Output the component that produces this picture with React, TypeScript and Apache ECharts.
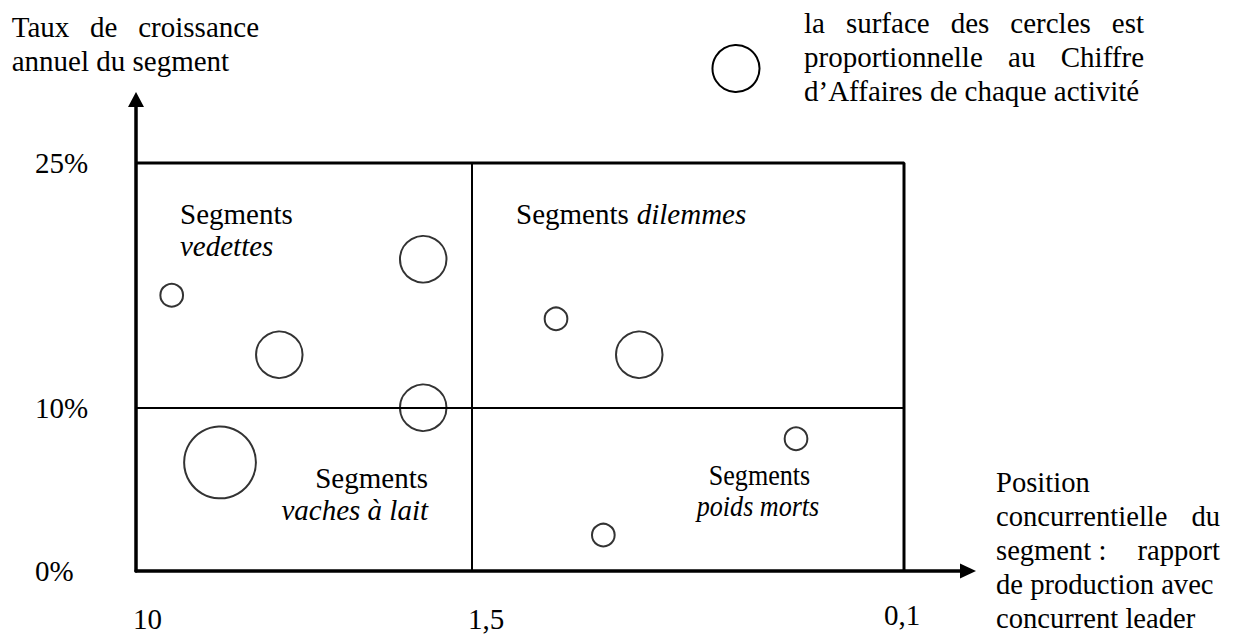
import React, { useEffect, useRef } from "react";
import * as echarts from "echarts";

// ---- data ----
// x: competitive position on a schematic scale (0 = ratio 10, 43.75 = ratio 1.5, 100 = ratio 0.1)
const xTickValues = [0, 43.75, 100];
const xTickLabels = ["10", "1,5", "0,1"];
const yTickValues = [0, 10, 25];
const yTickLabels = ["0%", "10%", "25%"];

const splitPosition = 43.75; // ratio 1,5
const splitGrowth = 10; // 10%
const maxPosition = 100; // ratio 0,1
const maxGrowth = 25; // 25%

const activityPosition = [4.65, 37.4, 18.66, 37.4, 10.94, 54.69, 65.53, 85.94, 60.85];
const activityGrowth = [16.9, 19.1, 13.25, 10, 6.65, 15.45, 13.25, 8.1, 2.2];
const activityRevenue = [1, 4.2, 4.2, 4.2, 10, 1, 4.2, 1, 1];
const legendRevenue = 4.3;

// ---- layout ----
const FONT = '"Liberation Serif", "Times New Roman", serif';
const FS = 29;
const UNIT_DIAMETER = 22.7;
const X_AXIS_MAX = 108.333;
const Y_AXIS_MAX = 28.89;

let measureCtx: CanvasRenderingContext2D | null = null;
function measure(text: string, fs: number, italic = false) {
  if (!measureCtx) measureCtx = document.createElement("canvas").getContext("2d");
  if (!measureCtx) return text.length * fs * 0.45;
  measureCtx.font = `${italic ? "italic " : ""}${fs}px ${FONT}`;
  return measureCtx.measureText(text).width;
}

type TxtOpt = { fs?: number; italic?: boolean; align?: string; scaleX?: number };
function txt(text: string, x: number, baseline: number, opt: TxtOpt = {}) {
  const fs = opt.fs ?? FS;
  return {
    type: "text",
    x,
    y: baseline - 0.3375 * fs,
    scaleX: opt.scaleX ?? 1,
    silent: true,
    z: 100,
    style: {
      text,
      fill: "#000",
      fontSize: fs,
      fontFamily: FONT,
      fontStyle: opt.italic ? "italic" : "normal",
      align: opt.align ?? "left",
      verticalAlign: "middle",
    },
  };
}

// justified line: first word at left, last word ending at right, equal gaps
function justify(words: string[], left: number, right: number, baseline: number, fs = FS) {
  const widths = words.map((w) => measure(w, fs));
  const total = widths.reduce((a, b) => a + b, 0);
  const gap = words.length > 1 ? (right - left - total) / (words.length - 1) : 0;
  const out: any[] = [];
  let x = left;
  words.forEach((w, i) => {
    out.push(txt(w, x, baseline, { fs }));
    x += widths[i] + gap;
  });
  return out;
}

export default function App() {
  const ref = useRef<HTMLDivElement>(null);
  useEffect(() => {
    if (!ref.current) return;
    const chart = echarts.init(ref.current, undefined, { renderer: "svg" });
    const option: any = {
      animation: false,
      backgroundColor: "#fff",
      grid: { left: 136, right: 266, top: 99.5, bottom: 64, containLabel: false },
      xAxis: {
        type: "value",
        min: 0,
        max: X_AXIS_MAX,
        axisLine: {
          show: true,
          onZero: false,
          symbol: ["none", "triangle"],
          symbolSize: [15, 16],
          lineStyle: { color: "#000", width: 3.5 },
        },
        axisTick: { show: false },
        axisLabel: { show: false },
        splitLine: { show: false },
      },
      yAxis: {
        type: "value",
        min: 0,
        max: Y_AXIS_MAX,
        axisLine: {
          show: true,
          onZero: false,
          symbol: ["none", "triangle"],
          symbolSize: [16, 15],
          lineStyle: { color: "#000", width: 3.5 },
        },
        axisTick: { show: false },
        splitLine: { show: false },
        axisLabel: {
          customValues: yTickValues,
          formatter: (v: number) => yTickLabels[yTickValues.indexOf(v)] ?? "",
          align: "left",
          margin: 101,
          padding: [4, 0, 0, 0],
          color: "#000",
          fontSize: FS,
          fontFamily: FONT,
        },
      },
      series: [
        {
          type: "line",
          silent: true,
          symbol: "none",
          z: 2,
          data: [
            [0, maxGrowth],
            [maxPosition, maxGrowth],
            [maxPosition, 0],
          ],
          lineStyle: { color: "#000", width: 3 },
          markLine: {
            silent: true,
            symbol: ["none", "none"],
            label: { show: false },
            lineStyle: { color: "#000", width: 2, type: "solid" },
            data: [
              [{ coord: [0, splitGrowth] }, { coord: [maxPosition, splitGrowth] }],
              [{ coord: [splitPosition, 0] }, { coord: [splitPosition, maxGrowth] }],
            ],
          },
        },
        {
          type: "scatter",
          z: 3,
          silent: true,
          data: activityPosition.map((x, i) => [x, activityGrowth[i], activityRevenue[i]]),
          symbolSize: (d: number[]) => UNIT_DIAMETER * Math.sqrt(d[2]),
          itemStyle: { color: "rgba(255,255,255,0.5)", borderColor: "#000", borderWidth: 2 },
        },
      ],
    };
    chart.setOption(option);

    const xLabelDx = [-3, -4, -20];
    const xLabelBaseline = [629, 629, 625];
    const tickTexts = xTickValues.map((v, i) => {
      const px = chart.convertToPixel({ xAxisIndex: 0 }, v) as number;
      return txt(xTickLabels[i], px + xLabelDx[i], xLabelBaseline[i]);
    });

    const graphics: any[] = [
      ...tickTexts,
      // y axis title
      ...justify(["Taux", "de", "croissance"], 11.7, 259, 36.7),
      txt("annuel du segment", 11.7, 70.7),
      // legend
      {
        type: "circle",
        silent: true,
        z: 100,
        shape: { cx: 736, cy: 68.5, r: (UNIT_DIAMETER * Math.sqrt(legendRevenue)) / 2 },
        style: { fill: "none", stroke: "#000", lineWidth: 2 },
      },
      ...justify(["la", "surface", "des", "cercles", "est"], 804, 1144, 33),
      ...justify(["proportionnelle", "au", "Chiffre"], 804, 1144, 67),
      txt("d\u2019Affaires de chaque activit\u00e9", 804, 101),
      // x axis title
      txt("Position", 996, 492, { fs: 28.6 }),
      ...justify(["concurrentielle", "du"], 996, 1220, 526, 28.6),
      ...justify(["segment\u00a0:", "rapport"], 996, 1220, 560, 28.6),
      txt("de production avec", 996, 594, { fs: 28.6 }),
      txt("concurrent leader", 996, 628, { fs: 28.6 }),
      // quadrant labels
      txt("Segments", 180, 224),
      txt("vedettes", 180, 256, { italic: true }),
      txt("Segments", 516, 224),
      txt("dilemmes", 636.7, 224, { italic: true }),
      txt("Segments", 428, 488, { align: "right" }),
      txt("vaches \u00e0 lait", 428, 520, { align: "right", italic: true }),
      txt("Segments", 759.5, 485, { align: "center", scaleX: 0.9 }),
      txt("poids morts", 758, 516, { align: "center", italic: true, scaleX: 0.9 }),
    ];
    chart.setOption({ graphic: graphics });

    return () => chart.dispose();
  }, []);

  return (
    <div
      ref={ref}
      style={{ position: "fixed", left: 0, top: 0, width: 1234, height: 635, background: "#fff" }}
    />
  );
}
